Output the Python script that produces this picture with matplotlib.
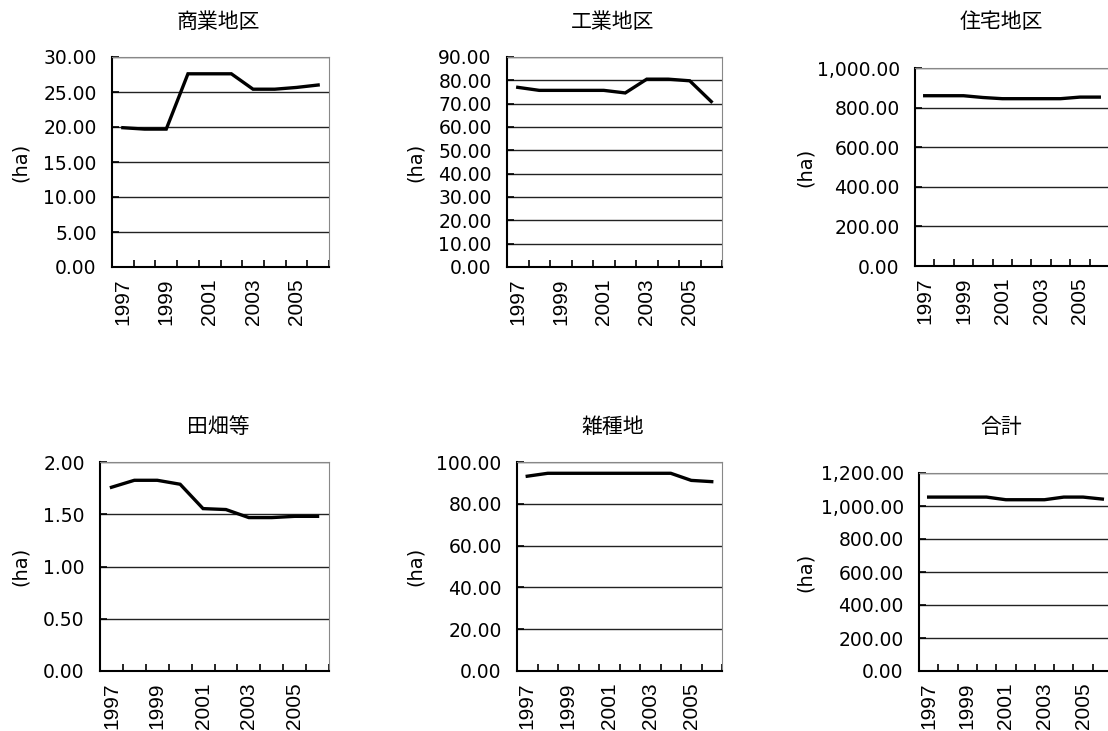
import matplotlib
matplotlib.use('Agg')
import matplotlib.pyplot as plt
import numpy as np

# %% Data (ha)
years = [1997, 1998, 1999, 2000, 2001, 2002, 2003, 2004, 2005, 2006]
year_labels = ['1997', '', '1999', '', '2001', '', '2003', '', '2005', '']

titles = ['商業地区', '工業地区', '住宅地区', '田畑等', '雑種地', '合計']

commercial = [19.9, 19.7, 19.7, 27.6, 27.6, 27.6, 25.4, 25.4, 25.65, 26.0]
industrial = [77.0, 75.7, 75.7, 75.7, 75.7, 74.6, 80.5, 80.5, 79.8, 70.9]
residential = [860, 860, 860, 851, 845, 845, 845, 845, 853, 853]
farmland = [1.758, 1.825, 1.825, 1.787, 1.554, 1.545, 1.468, 1.468, 1.48, 1.48]
misc_land = [93.2, 94.6, 94.6, 94.6, 94.6, 94.6, 94.6, 94.6, 91.2, 90.6]
total = [1054, 1054, 1054, 1054, 1038, 1038, 1038, 1054, 1054, 1042]

series = [commercial, industrial, residential, farmland, misc_land, total]
y_max = [30, 90, 1000, 2, 100, 1200]
y_step = [5, 10, 200, 0.5, 20, 200]

# %% Layout (pixels: left, right, top, bottom)
W, H = 1108, 731
boxes = [(112, 329, 57, 267), (507, 722, 57, 267), (915, 1109, 68, 266),
         (100, 329, 462, 671), (517, 722, 462, 671), (919, 1112, 473, 671)]
title_xy = [(218, 22), (613, 22), (1001, 22), (218, 427), (613, 427), (1001, 427)]
ylabel_x = [20, 415, 805, 20, 415, 805]

fig = plt.figure(figsize=(W / 100, H / 100), dpi=100)

for i, vals in enumerate(series):
    l, r, t, b = boxes[i]
    ax = fig.add_axes([l / W, (H - b) / H, (r - l) / W, (b - t) / H])
    x = np.arange(len(years))
    ax.plot(x, vals, color='black', lw=2.4, solid_joinstyle='miter', zorder=3)

    ax.set_xlim(-0.5, len(years) - 0.5)
    ax.set_ylim(0, y_max[i])
    yt = np.arange(0, y_max[i] + y_step[i] / 2, y_step[i])
    ax.set_yticks(yt)
    ax.set_yticklabels(['{:,.2f}'.format(v) for v in yt],
                       family='DejaVu Sans', fontsize=13.5)
    ax.yaxis.grid(True, color='#222222', lw=1)
    ax.set_axisbelow(True)

    ax.set_xticks(x)
    ax.set_xticklabels(year_labels, rotation=90, family='Liberation Sans',
                       fontstretch='normal', fontsize=15, va='top')
    ax.set_xticks(np.arange(-0.5, len(years)), minor=True)
    ax.tick_params(axis='x', which='major', length=0, pad=8)
    ax.tick_params(axis='x', which='minor', direction='in', length=5,
                   width=1.2, color='black')
    ax.tick_params(axis='y', direction='in', length=5, width=1.2, pad=11)

    ax.spines['left'].set_color('black')
    ax.spines['bottom'].set_color('black')
    ax.spines['left'].set_linewidth(1.5)
    ax.spines['bottom'].set_linewidth(1.5)
    ax.spines['top'].set_color('#888888')
    ax.spines['right'].set_color('#888888')

    tx, ty = title_xy[i]
    fig.text(tx / W, (H - ty) / H, titles[i], ha='center', va='center',
             family=['Noto Sans CJK JP', 'DejaVu Sans'], fontsize=15)
    fig.text(ylabel_x[i] / W, (H - (t + b) / 2) / H, '(ha)', rotation=90,
             ha='center', va='center', family='DejaVu Sans', fontsize=14)

fig.savefig('out.png', dpi=100)
